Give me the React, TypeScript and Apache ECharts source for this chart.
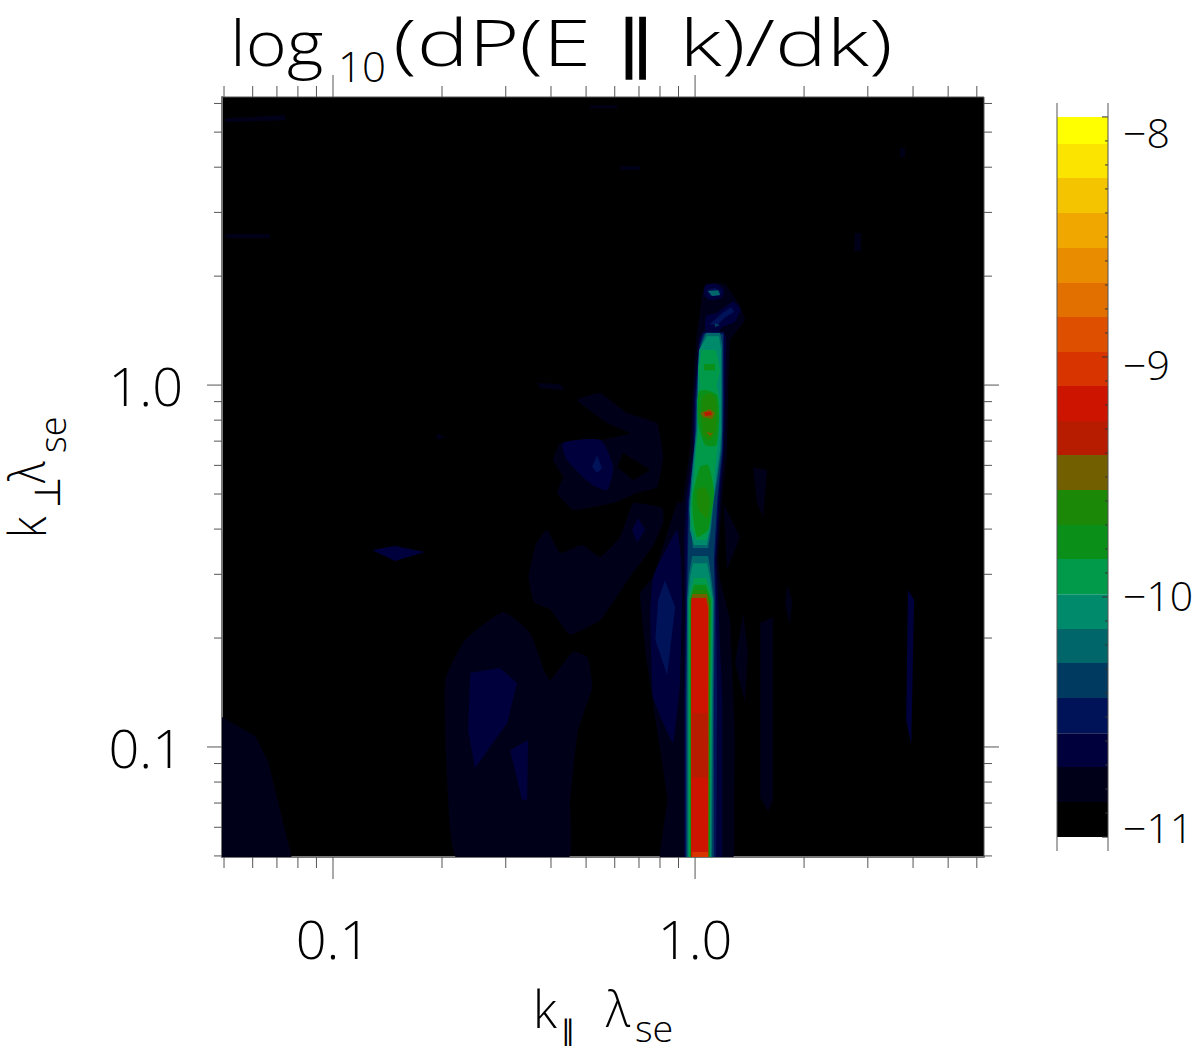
import React, { useEffect, useRef } from "react";
import * as echarts from "echarts";

type Pt = [number, number];
type Blob = { level: number; pts: Pt[]; smooth?: number };

const FONT = "'Open Sans', 'DejaVu Sans'";
const WEIGHT = 300;

const levelColors = ["#000000","#000018","#00003c","#001258","#003a60","#00666a","#008a6c","#009a4a","#0a9018","#1c8808","#726000","#b81c00","#cc1400","#d83400","#de5000","#e27000","#ea8c00","#f0a800","#f4c400","#fae400","#ffff00"];
const levelEdges = [-11,-10.854,-10.708,-10.567,-10.421,-10.275,-10.133,-9.988,-9.842,-9.7,-9.554,-9.408,-9.267,-9.121,-8.979,-8.833,-8.692,-8.546,-8.4,-8.254,-8.113,-8];
const barMajor = [-8,-9,-10,-11];
const barMinor = [-8.1,-8.2,-8.3,-8.4,-8.5,-8.6,-8.7,-8.8,-8.9,-9.1,-9.2,-9.3,-9.4,-9.5,-9.6,-9.7,-9.8,-9.9,-10.1,-10.2,-10.3,-10.4,-10.5,-10.6,-10.7,-10.8,-10.9];
const kMajor = [0.1, 1];
const kMinorX = [0.05,0.06,0.07,0.08,0.09,0.2,0.3,0.4,0.5,0.6,0.7,0.8,0.9,2,3,4,5,6];
const kMinorY = [0.05,0.06,0.07,0.08,0.09,0.2,0.3,0.4,0.5,0.6,0.7,0.8,0.9,2,3,4,5,6];

// every contour below is [log10 k_par, log10 k_perp]
const faint: Blob[] = [
  { level: 1, pts: [[-1.31,-.915],[-1.215,-.97],[-1.179,-1.04],[-1.113,-1.31],[-1.31,-1.31]] },
  { level: 1, pts: [[-.53,-.627],[-.456,-.685],[-.414,-.795],[-.4,-.815],[-.337,-.737],[-.298,-.751],[-.284,-.834],[-.323,-.953],[-.345,-1.146],[-.351,-1.31],[-.657,-1.31],[-.685,-1.09],[-.69,-.815],[-.635,-.704]], smooth: 0.15 },
  { level: 2, pts: [[-.621,-.795],[-.539,-.782],[-.492,-.823],[-.519,-.934],[-.608,-1.058],[-.627,-.953]] },
  { level: 2, pts: [[-.511,-1.008],[-.461,-.981],[-.464,-1.146],[-.478,-1.146]] },
  { level: 1, pts: [[-.409,-.4],[-.373,-.464],[-.312,-.442],[-.262,-.475],[-.207,-.42],[-.171,-.326],[-.09,-.34],[-.088,-.38],[-.116,-.445],[-.18,-.53],[-.262,-.65],[-.345,-.69],[-.4,-.62],[-.445,-.6],[-.46,-.53],[-.44,-.44]], smooth: 0.1 },
  { level: 1, pts: [[-.326,-.041],[-.262,-.022],[-.188,-.077],[-.105,-.105],[-.088,-.199],[-.105,-.282],[-.16,-.298],[-.226,-.326],[-.337,-.345],[-.381,-.298],[-.365,-.254],[-.392,-.207],[-.373,-.16],[-.262,-.152],[-.18,-.133],[-.243,-.105]], smooth: 0.1 },
  { level: 0, pts: [[-.199,-.188],[-.124,-.235],[-.171,-.262],[-.215,-.226]] },
  { level: 2, pts: [[-.365,-.16],[-.262,-.152],[-.226,-.226],[-.243,-.29],[-.29,-.271],[-.354,-.207]], smooth: 0.2 },
  { level: 3, pts: [[-.271,-.193],[-.257,-.229],[-.271,-.243],[-.284,-.226]] },
  { level: 2, pts: [[-.157,-.367],[-.138,-.4],[-.16,-.436],[-.174,-.4]] },
  { level: 1, pts: [[-.05,-.326],[-.116,-.53],[-.152,-.574],[-.133,-.767],[-.105,-.953],[-.077,-1.146],[-.097,-1.31],[-.03,-1.31],[-.03,-.326]], smooth: 0.1 },
  { level: 2, pts: [[-.05,-.4],[-.116,-.53],[-.124,-.63],[-.116,-.862],[-.061,-.989],[-.041,-.815],[-.033,-.539]], smooth: 0.1 },
  { level: 3, pts: [[-.083,-.539],[-.055,-.613],[-.077,-.801],[-.11,-.704],[-.102,-.594]] },
  { level: 1, pts: [[.055,-.483],[.097,-.649],[.11,-.981],[.105,-1.31],[.04,-1.31],[.04,-.483]] },
  { level: 1, pts: [[.133,-.63],[.146,-.737],[.138,-.878],[.11,-.768]] },
  { level: 1, pts: [[.18,-.657],[.215,-.641],[.215,-1.146],[.202,-1.18],[.18,-1.14]] },
  { level: 1, pts: [[.254,-.552],[.268,-.594],[.262,-.663],[.249,-.608]] },
  { level: 1, pts: [[.16,-.227],[.199,-.235],[.188,-.365],[.171,-.326]] },
  { level: 1, pts: [[.078,-.326],[.124,-.42],[.088,-.511]] },
  { level: 2, pts: [[.588,-.566],[.605,-.594],[.597,-.994],[.583,-.925]] },
  { level: 2, pts: [[-.892,-.456],[-.829,-.445],[-.746,-.461],[-.829,-.486]] },
  { level: 1, pts: [[-.436,.006],[-.373,.003],[-.359,-.014],[-.428,-.008]] },
  { level: 1, pts: [[-.713,-.133],[-.69,-.144],[-.713,-.152]] },
  { level: 1, pts: [[-1.298,.737],[-1.132,.746],[-1.132,.732],[-1.298,.726]] },
  { level: 1, pts: [[-1.298,.417],[-1.174,.417],[-1.174,.406],[-1.298,.406]] },
  { level: 1, pts: [[-.29,.773],[-.215,.773],[-.215,.765],[-.29,.765]] },
  { level: 1, pts: [[-.207,.605],[-.152,.605],[-.152,.594],[-.207,.594]] },
  { level: 1, pts: [[.566,.655],[.58,.655],[.58,.63],[.566,.63]] },
  { level: 1, pts: [[.44,.42],[.458,.42],[.458,.37],[.44,.37]] },
];

const ridge: Blob[] = [
  { level: 1, pts: [[.047,.282],[.083,.279],[.124,.218],[.138,.18],[.097,.124],[.091,-.041],[.088,-.18],[.075,-.318],[.064,-.483],[.075,-.594],[.097,-.87],[.105,-1.31],[-.036,-1.31],[-.041,-.87],[-.036,-.594],[-.041,-.373],[-.014,-.18],[-.008,-.041],[.003,.124],[.014,.207],[.022,.262]], smooth: 0.1 },
  { level: 2, pts: [[.028,.276],[.06,.279],[.08,.262],[.075,.243],[.04,.235],[.025,.25]], smooth: 0.2 },
  { level: 2, pts: [[.03,.19],[.06,.2],[.105,.23],[.125,.21],[.11,.175],[.075,.16],[.06,.14],[.03,.14]], smooth: 0.2 },
  { level: 2, pts: [[.014,.138],[.086,.138],[.083,-.041],[.08,-.18],[.069,-.318],[.058,-.483],[.064,-.594],[.075,-.87],[.075,-1.31],[-.03,-1.31],[-.03,-.87],[-.028,-.594],[-.03,-.428],[-.025,-.318],[-.006,-.18],[-.003,-.041],[.011,.124]] },
  { level: 3, pts: [[.033,.262],[.055,.268],[.072,.257],[.066,.246],[.041,.246]] },
  { level: 3, pts: [[.075,.199],[.1,.215],[.108,.202],[.085,.188],[.06,.165],[.04,.168]] },
  { level: 5, pts: [[.036,.26],[.064,.262],[.069,.249],[.047,.246]] },
  { level: 4, pts: [[.055,.171],[.069,.166],[.055,.16]] },
  { level: 3, pts: [[.022,.146],[.08,.146],[.08,-.041],[.077,-.18],[.064,-.318],[.055,-.483],[.058,-.594],[.061,-.87],[.058,-1.31],[-.028,-1.31],[-.028,-.87],[-.025,-.594],[-.022,-.428],[-.019,-.318],[-.003,-.18],[0,-.041],[.011,.11]] },
  { level: 4, pts: [[.025,.141],[.077,.141],[.077,-.041],[.075,-.18],[.061,-.318],[.052,-.483],[.055,-.594],[.052,-.87],[.052,-1.31],[-.025,-1.31],[-.025,-.87],[-.022,-.594],[-.019,-.428],[-.017,-.318],[0,-.18],[.003,-.041],[.014,.11]] },
  { level: 5, pts: [[-.006,-.45],[.036,-.45],[.044,-.4],[.052,-.318],[.061,-.262],[.072,-.18],[.075,-.124],[.075,-.041],[.075,.11],[.069,.144],[.03,.144],[.017,.11],[.008,.041],[.006,-.041],[.003,-.124],[-.003,-.18],[-.011,-.262],[-.017,-.345],[-.011,-.4]] },
  { level: 5, pts: [[-.008,-.472],[.036,-.472],[.044,-.525],[.052,-.594],[.05,-.87],[.047,-1.31],[-.022,-1.31],[-.022,-.87],[-.022,-.594],[-.017,-.525]] },
  { level: 6, pts: [[.033,.135],[.066,.135],[.072,.097],[.072,-.041],[.072,-.124],[.069,-.18],[.058,-.262],[.05,-.318],[.041,-.4],[.033,-.442],[-.003,-.442],[-.014,-.4],[-.014,-.345],[-.008,-.262],[0,-.18],[.006,-.124],[.008,-.041],[.008,.041],[.011,.097]] },
  { level: 6, pts: [[-.006,-.492],[.033,-.492],[.041,-.533],[.05,-.594],[.047,-.87],[.044,-1.31],[-.019,-1.31],[-.019,-.594],[-.014,-.533]] },
  { level: 7, pts: [[.018,.097],[.058,.097],[.069,.041],[.06,0],[.068,-.041],[.066,-.124],[.061,-.18],[.052,-.262],[.047,-.318],[.039,-.4],[.03,-.428],[.003,-.428],[-.011,-.387],[-.011,-.318],[-.003,-.262],[.003,-.18],[.008,-.124],[.006,-.041],[.014,0],[.01,.041]] },
  { level: 7, pts: [[-.003,-.533],[.03,-.533],[.041,-.566],[.047,-.594],[.044,-.87],[.041,-1.31],[-.017,-1.31],[-.017,-.594],[-.011,-.566]] },
  { level: 8, pts: [[.025,.058],[.055,.058],[.055,.041],[.025,.041]] },
  { level: 8, pts: [[.01,-.019],[.033,-.014],[.061,-.028],[.066,-.097],[.058,-.166],[.028,-.166],[.01,-.11]], smooth: 0.2 },
  { level: 8, pts: [[.014,-.226],[.036,-.221],[.052,-.29],[.047,-.345],[.036,-.4],[.006,-.42],[-.006,-.359],[-.006,-.304]], smooth: 0.2 },
  { level: 8, pts: [[-.003,-.552],[.03,-.552],[.044,-.594],[.041,-.87],[.04,-1.31],[-.014,-1.31],[-.014,-.594]] },
  { level: 9, pts: [[.019,-.036],[.041,-.022],[.058,-.041],[.058,-.124],[.041,-.152],[.022,-.138]], smooth: 0.2 },
  { level: 9, pts: [[.006,-.29],[.028,-.282],[.041,-.318],[.033,-.367],[.014,-.351],[.006,-.331]], smooth: 0.2 },
  { level: 9, pts: [[-.003,-.566],[.03,-.566],[.041,-.594],[.039,-1.31],[-.012,-1.31],[-.012,-.594]] },
  { level: 10, pts: [[.014,-.077],[.041,-.066],[.055,-.077],[.047,-.094],[.022,-.088]] },
  { level: 11, pts: [[.025,-.075],[.044,-.072],[.047,-.083],[.028,-.086]] },
  { level: 10, pts: [[.03,-.13],[.05,-.133],[.041,-.141]] },
  { level: 10, pts: [[-.008,-.577],[.033,-.577],[.039,-.608],[.037,-1.31],[-.011,-1.31],[-.011,-.608]] },
  { level: 12, pts: [[-.01,-.588],[.03,-.588],[.036,-.616],[.036,-1.31],[-.011,-1.31],[-.011,-.616]] },
  { level: 11, pts: [[-.008,-.906],[.036,-.906],[.036,-1.085],[-.008,-1.085]] },
  { level: 13, pts: [[-.008,-1.29],[.036,-1.29],[.036,-1.31],[-.008,-1.31]] },
];

const contours = [...faint, ...ridge];
const axisMinLog = { x: -1.3066, y: -1.304 };
const axisMaxLog = { x: 0.798, y: 0.796 };

export default function App() {
  const ref = useRef<HTMLDivElement>(null);
  useEffect(() => {
    const chart = echarts.init(ref.current!, undefined, { renderer: "svg" });
    const tickColor = "#555";
    const decadeLabel = (v: number) => Math.abs(v - 0.1) < 1e-6 ? "0.1" : Math.abs(v - 1) < 1e-6 ? "1.0" : "";
    const text = { fontFamily: FONT, fontWeight: WEIGHT, color: "#000" };
    const piece = (t: string, x: number, y: number, size: number, sx = 1, rot = 0) => ({
      type: "text", x, y, scaleX: sx, rotation: rot, silent: true,
      style: { text: t, fontFamily: FONT, fontWeight: WEIGHT, fontSize: size, fill: "#000", align: "left", verticalAlign: "middle" },
    });
    const Q = Math.PI / 2;
    chart.setOption({
      animation: false,
      backgroundColor: "#fff",
      graphic: [
        piece("log", 230, 42, 62, 1.13),
        piece("10", 338, 65, 42, 1),
        piece("(dP(E ∥ k)/dk)", 393, 41, 64, 1.36),
        piece("k", 533, 1008, 52, 0.95),
        piece("∥", 561, 1029, 28, 1),
        piece("λ", 606, 1008, 50, 0.95),
        piece("se", 635, 1028, 36, 1.05),
        piece("k", 26, 538, 52, 0.85, Q),
        piece("⊥", 46, 508, 36, 1, Q),
        piece("λ", 26, 483, 50, 0.85, Q),
        piece("se", 52, 453, 36, 1, Q),
      ],
      grid: [
        { left: 222, top: 97, width: 762, height: 760, show: true, backgroundColor: "#000", borderWidth: 0, outerBoundsMode: "none", containLabel: false },
        { left: 1057, top: 103, width: 51, height: 748, show: false, outerBoundsMode: "none", containLabel: false },
      ],
      xAxis: [
        {
          type: "log", gridIndex: 0, logBase: 10,
          min: Math.pow(10, axisMinLog.x), max: Math.pow(10, axisMaxLog.x),
          axisLine: { show: true, onZero: false, lineStyle: { color: "#777", width: 2 } },
          axisTick: { show: false }, splitLine: { show: false }, minorTick: { show: false },
          axisLabel: { margin: 54, fontSize: 54, ...text, formatter: decadeLabel, showMinLabel: false, showMaxLabel: false, hideOverlap: false },
        },
        { type: "value", gridIndex: 1, min: 0, max: 1, show: false },
      ],
      yAxis: [
        {
          type: "log", gridIndex: 0, logBase: 10,
          min: Math.pow(10, axisMinLog.y), max: Math.pow(10, axisMaxLog.y),
          axisLine: { show: true, onZero: false, lineStyle: { color: "#777", width: 2 } },
          axisTick: { show: false }, splitLine: { show: false }, minorTick: { show: false },
          axisLabel: { margin: 39, fontSize: 54, ...text, formatter: decadeLabel, showMinLabel: false, showMaxLabel: false, hideOverlap: false },
        },
        { type: "value", gridIndex: 1, min: -11.058, max: -7.942, show: false },
        {
          type: "value", gridIndex: 1, position: "right", min: -11.104, max: -7.875,
          axisLine: { show: false }, axisTick: { show: false }, splitLine: { show: false },
          axisLabel: { customValues: barMajor, margin: 15, fontSize: 41, ...text, formatter: (v: number) => "−" + Math.abs(v) },
        },
      ],
      series: [
        {
          type: "custom", xAxisIndex: 0, yAxisIndex: 0, clip: true, silent: true,
          data: contours.map((c) => [Math.pow(10, c.pts[0][0]), Math.pow(10, c.pts[0][1])]),
          renderItem: (p: any, api: any) => {
            const c = contours[p.dataIndex];
            return {
              type: "polygon",
              shape: { points: c.pts.map(([x, y]) => api.coord([Math.pow(10, x), Math.pow(10, y)])), smooth: c.smooth ?? 0 },
              style: { fill: levelColors[c.level] },
            };
          },
        },
        {
          type: "custom", xAxisIndex: 0, yAxisIndex: 0, silent: true, clip: false,
          data: [[1, 1]],
          renderItem: (_p: any, api: any) => {
            const L = (a: number[], b: number[]) => ({ type: "line", shape: { x1: a[0], y1: a[1], x2: b[0], y2: b[1] }, style: { stroke: tickColor, lineWidth: 1 } });
            const xMin = Math.pow(10, axisMinLog.x), xMax = Math.pow(10, axisMaxLog.x);
            const yMin = Math.pow(10, axisMinLog.y), yMax = Math.pow(10, axisMaxLog.y);
            const children: any[] = [];
            const xt = (k: number, len: number) => {
              const b = api.coord([k, yMin]), t = api.coord([k, yMax]);
              children.push(L(b, [b[0], b[1] + len]), L(t, [t[0], t[1] - len]));
            };
            const yt = (k: number, len: number) => {
              const l = api.coord([xMin, k]), r = api.coord([xMax, k]);
              children.push(L(l, [l[0] - len, l[1]]), L(r, [r[0] + len, r[1]]));
            };
            kMinorX.forEach((k) => xt(k, 11));
            kMajor.forEach((k) => xt(k, 22));
            kMinorY.forEach((k) => yt(k, 8));
            kMajor.forEach((k) => yt(k, 15));
            const tl = api.coord([xMin, yMax]), br = api.coord([xMax, yMin]);
            children.push(L([tl[0], tl[1]], [br[0], tl[1]]), L([br[0], tl[1]], [br[0], br[1]]));
            return { type: "group", children };
          },
        },
        {
          type: "custom", xAxisIndex: 1, yAxisIndex: 1, silent: true,
          data: levelColors.map((_, i) => [0, levelEdges[i]]),
          renderItem: (p: any, api: any) => {
            const i = p.dataIndex;
            const a = api.coord([0, levelEdges[i + 1]]), b = api.coord([1, levelEdges[i]]);
            return { type: "rect", shape: { x: a[0], y: a[1], width: b[0] - a[0], height: b[1] - a[1] }, style: { fill: levelColors[i] } };
          },
        },
        {
          type: "custom", xAxisIndex: 1, yAxisIndex: 1, silent: true,
          data: [[0, -9]],
          renderItem: (_p: any, api: any) => {
            const L = (a: number[], b: number[], c = "#333") => ({ type: "line", shape: { x1: a[0], y1: a[1], x2: b[0], y2: b[1] }, style: { stroke: c, lineWidth: 1 } });
            const children: any[] = [];
            barMinor.forEach((v) => { const r = api.coord([1, v]); children.push(L([r[0] - 3, r[1]], r)); });
            barMajor.forEach((v) => { const r = api.coord([1, v]); children.push(L([r[0] - 6, r[1]], r)); });
            [0, 1].forEach((x) => children.push(L(api.coord([x, -11.058]), api.coord([x, -7.942]), "#555")));
            return { type: "group", children };
          },
        },
      ],
    });
    return () => chart.dispose();
  }, []);
  return <div ref={ref} style={{ position: "absolute", left: 0, top: 0, width: 1200, height: 1049 }} />;
}
